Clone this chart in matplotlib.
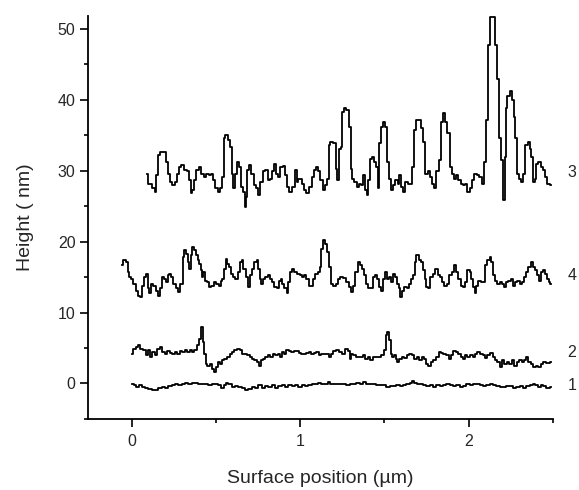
import matplotlib
matplotlib.use("Agg")
import matplotlib.pyplot as plt
from matplotlib.ticker import MultipleLocator

plt.rcParams['font.family'] = ['Liberation Sans', 'DejaVu Sans']

# ---------------- data ----------------
x3 = [0.089, 0.108, 0.128, 0.144, 0.148, 0.158, 0.177, 0.197, 0.207, 0.217, 0.231, 0.247, 0.262, 0.270,
      0.286, 0.302, 0.316, 0.336, 0.345, 0.355, 0.365, 0.375, 0.389, 0.405, 0.420, 0.434, 0.448, 0.464,
      0.474, 0.488, 0.504, 0.519, 0.533, 0.543, 0.549, 0.563, 0.577, 0.588, 0.598, 0.606, 0.618, 0.628,
      0.642, 0.652, 0.666, 0.675, 0.681, 0.691, 0.701, 0.715, 0.731, 0.745, 0.756, 0.770, 0.784, 0.800,
      0.814, 0.824, 0.835, 0.849, 0.859, 0.875, 0.889, 0.903, 0.915, 0.928, 0.942, 0.958, 0.974, 0.982,
      0.994, 1.007, 1.017, 1.027, 1.047, 1.061, 1.073, 1.086, 1.100, 1.112, 1.126, 1.140, 1.152, 1.165,
      1.171, 1.185, 1.205, 1.215, 1.225, 1.235, 1.245, 1.254, 1.264, 1.284, 1.294, 1.304, 1.314, 1.328,
      1.340, 1.353, 1.367, 1.379, 1.389, 1.399, 1.407, 1.419, 1.432, 1.446, 1.456, 1.462, 1.472, 1.486,
      1.498, 1.511, 1.521, 1.531, 1.541, 1.557, 1.571, 1.585, 1.590, 1.604, 1.616, 1.630, 1.644, 1.660,
      1.669, 1.679, 1.695, 1.709, 1.723, 1.735, 1.749, 1.762, 1.774, 1.788, 1.798, 1.814, 1.828, 1.837,
      1.853, 1.867, 1.881, 1.893, 1.907, 1.920, 1.932, 1.946, 1.960, 1.972, 1.986, 1.999, 2.011, 2.025,
      2.039, 2.055, 2.071, 2.085, 2.094, 2.110, 2.120, 2.134, 2.150, 2.164, 2.173, 2.183, 2.197, 2.209,
      2.217, 2.223, 2.237, 2.249, 2.262, 2.272, 2.282, 2.292, 2.306, 2.318, 2.332, 2.341, 2.357, 2.367,
      2.377, 2.387, 2.397, 2.407, 2.420, 2.434, 2.446, 2.460, 2.470, 2.490]
y3 = [29.6, 28.2, 27.5, 27.0, 29.4, 32.2, 32.7, 32.7, 31.3, 29.6, 28.4, 28.0, 28.4, 29.6,
      30.6, 30.8, 30.1, 29.9, 28.7, 26.8, 27.3, 28.7, 30.1, 30.5, 29.6, 29.1, 29.6, 29.4,
      29.6, 28.7, 27.5, 27.0, 27.5, 29.1, 34.6, 35.0, 34.3, 33.4, 29.6, 27.5, 29.6, 31.3,
      30.6, 27.7, 27.0, 24.9, 26.3, 30.1, 30.8, 29.6, 28.0, 27.5, 26.6, 28.4, 29.9, 30.1,
      28.7, 28.9, 29.9, 30.9, 29.6, 29.1, 30.6, 30.7, 29.4, 27.7, 27.0, 27.7, 30.1, 28.4,
      28.9, 28.8, 28.2, 27.3, 26.9, 27.7, 29.1, 30.1, 30.6, 29.9, 28.7, 27.3, 28.0, 28.9,
      33.6, 34.1, 33.9, 30.3, 28.7, 33.1, 33.4, 38.3, 38.8, 38.6, 36.2, 30.3, 28.9, 28.4,
      27.7, 28.2, 28.0, 29.4, 27.3, 26.6, 28.7, 31.7, 32.0, 31.3, 30.6, 27.5, 33.9, 36.2,
      36.9, 36.2, 31.3, 28.9, 27.3, 28.0, 28.7, 28.2, 29.4, 27.7, 27.0, 28.4, 28.2, 28.2,
      30.6, 35.7, 37.1, 37.1, 36.0, 34.1, 29.6, 29.9, 29.1, 28.2, 27.5, 29.9, 31.5, 36.9,
      38.1, 36.9, 35.3, 30.6, 29.6, 28.9, 29.4, 28.7, 28.2, 28.0, 28.2, 27.0, 27.5, 28.7,
      29.6, 29.4, 29.1, 28.2, 31.3, 37.1, 47.7, 51.7, 51.7, 47.7, 43.0, 34.6, 31.5, 25.9,
      32.0, 38.8, 40.5, 41.2, 40.0, 37.6, 34.6, 29.6, 28.9, 28.4, 29.6, 33.6, 34.1, 33.1,
      32.0, 28.4, 28.9, 31.0, 31.3, 30.6, 30.1, 29.1, 28.2, 28.0]

x4 = [-0.059, -0.044, -0.030, -0.020, -0.010, 0.004, 0.016, 0.029, 0.043, 0.055, 0.065, 0.075, 0.089,
      0.099, 0.108, 0.122, 0.134, 0.148, 0.158, 0.174, 0.184, 0.197, 0.207, 0.217, 0.227, 0.241, 0.253,
      0.267, 0.280, 0.296, 0.306, 0.316, 0.326, 0.336, 0.346, 0.352, 0.365, 0.375, 0.385, 0.395, 0.405,
      0.411, 0.419, 0.431, 0.438, 0.450, 0.464, 0.478, 0.494, 0.510, 0.523, 0.533, 0.543, 0.553, 0.563,
      0.573, 0.583, 0.597, 0.608, 0.622, 0.636, 0.648, 0.658, 0.668, 0.682, 0.695, 0.707, 0.721, 0.735,
      0.747, 0.755, 0.765, 0.774, 0.786, 0.800, 0.814, 0.826, 0.840, 0.853, 0.865, 0.879, 0.889, 0.899,
      0.913, 0.925, 0.932, 0.944, 0.958, 0.972, 0.988, 1.004, 1.017, 1.031, 1.043, 1.057, 1.071, 1.083,
      1.096, 1.110, 1.122, 1.130, 1.142, 1.156, 1.166, 1.176, 1.185, 1.205, 1.221, 1.229, 1.245, 1.264,
      1.280, 1.294, 1.308, 1.320, 1.334, 1.347, 1.359, 1.373, 1.383, 1.393, 1.407, 1.422, 1.438, 1.452,
      1.462, 1.472, 1.482, 1.498, 1.511, 1.521, 1.531, 1.545, 1.557, 1.571, 1.581, 1.590, 1.600, 1.610,
      1.624, 1.640, 1.650, 1.660, 1.675, 1.683, 1.695, 1.709, 1.723, 1.735, 1.743, 1.754, 1.768, 1.778,
      1.794, 1.808, 1.822, 1.834, 1.847, 1.861, 1.877, 1.893, 1.907, 1.920, 1.932, 1.946, 1.960, 1.972,
      1.986, 1.999, 2.011, 2.019, 2.031, 2.039, 2.051, 2.065, 2.079, 2.094, 2.104, 2.118, 2.130, 2.138,
      2.150, 2.164, 2.177, 2.189, 2.203, 2.217, 2.229, 2.243, 2.256, 2.268, 2.282, 2.296, 2.308, 2.322,
      2.335, 2.347, 2.361, 2.375, 2.387, 2.401, 2.414, 2.426, 2.434, 2.446, 2.460, 2.470, 2.480, 2.490]
y4 = [16.7, 17.4, 17.1, 15.7, 15.0, 14.8, 14.1, 13.1, 12.4, 12.2, 13.8, 15.0, 15.5,
      13.4, 12.7, 14.1, 13.8, 13.1, 12.4, 13.4, 15.0, 14.8, 14.3, 15.3, 15.5, 15.0, 14.1,
      13.4, 12.9, 14.1, 17.8, 18.8, 18.3, 17.1, 16.2, 18.1, 19.3, 18.8, 18.1, 17.4, 16.9,
      16.0, 15.0, 15.7, 14.5, 14.3, 13.6, 13.8, 14.3, 14.1, 13.8, 14.5, 14.8, 16.2, 17.6,
      16.9, 16.4, 15.5, 15.0, 14.8, 15.7, 17.1, 17.4, 16.2, 15.0, 13.6, 15.3, 16.2, 17.1,
      17.4, 16.2, 14.8, 14.1, 14.8, 15.0, 15.3, 14.8, 14.3, 13.6, 13.4, 14.5, 14.8, 14.1,
      13.4, 12.7, 14.3, 15.7, 16.2, 15.7, 15.5, 15.3, 15.0, 15.3, 14.8, 13.8, 13.8, 14.8,
      15.5, 15.7, 16.4, 19.0, 20.2, 19.7, 18.6, 16.4, 14.1, 13.8, 14.1, 14.8, 15.0, 14.9,
      14.3, 13.6, 12.9, 13.8, 15.7, 17.1, 16.7, 16.2, 15.3, 14.1, 13.4, 13.4, 15.0, 15.3,
      14.8, 13.6, 13.1, 14.8, 15.7, 14.8, 15.0, 14.3, 15.5, 15.0, 14.1, 13.4, 12.2, 13.1,
      13.6, 13.4, 14.1, 14.8, 15.3, 17.1, 18.1, 17.4, 17.1, 16.0, 14.8, 13.6, 13.4, 15.0,
      15.5, 16.2, 15.3, 15.0, 14.3, 13.8, 14.1, 15.3, 15.7, 16.7, 15.7, 14.8, 13.8, 13.6,
      14.3, 16.0, 15.7, 14.8, 13.6, 12.7, 13.8, 14.5, 14.3, 14.3, 16.7, 17.4, 17.8, 17.1,
      15.3, 14.5, 14.1, 14.3, 14.1, 13.6, 14.3, 14.5, 14.8, 13.8, 14.3, 14.5, 14.1, 14.3,
      15.0, 15.7, 16.4, 17.1, 16.4, 16.0, 15.3, 14.5, 15.7, 16.0, 15.5, 14.8, 14.3, 14.1]

x2 = [0.004, 0.016, 0.029, 0.043, 0.059, 0.075, 0.089, 0.103, 0.114, 0.128, 0.142, 0.158, 0.174, 0.188,
      0.201, 0.217, 0.233, 0.247, 0.261, 0.276, 0.292, 0.306, 0.320, 0.336, 0.352, 0.365, 0.379, 0.391,
      0.405, 0.419, 0.427, 0.435, 0.444, 0.454, 0.470, 0.484, 0.494, 0.504, 0.514, 0.529, 0.543, 0.557,
      0.573, 0.589, 0.603, 0.616, 0.632, 0.648, 0.662, 0.676, 0.691, 0.707, 0.721, 0.735, 0.751, 0.761,
      0.774, 0.786, 0.800, 0.814, 0.830, 0.846, 0.859, 0.873, 0.889, 0.899, 0.909, 0.925, 0.938, 0.952,
      0.968, 0.984, 0.998, 1.012, 1.027, 1.043, 1.057, 1.071, 1.087, 1.102, 1.116, 1.130, 1.146, 1.162,
      1.176, 1.189, 1.205, 1.221, 1.235, 1.255, 1.274, 1.288, 1.300, 1.308, 1.324, 1.343, 1.363, 1.379,
      1.393, 1.407, 1.422, 1.438, 1.452, 1.472, 1.492, 1.502, 1.511, 1.521, 1.531, 1.541, 1.551, 1.561,
      1.571, 1.581, 1.596, 1.610, 1.624, 1.640, 1.656, 1.669, 1.683, 1.699, 1.715, 1.729, 1.743, 1.754,
      1.768, 1.782, 1.798, 1.814, 1.828, 1.841, 1.857, 1.873, 1.887, 1.901, 1.917, 1.932, 1.946, 1.960,
      1.972, 1.986, 1.999, 2.015, 2.031, 2.045, 2.059, 2.075, 2.090, 2.104, 2.118, 2.134, 2.150, 2.164,
      2.177, 2.189, 2.203, 2.217, 2.233, 2.248, 2.262, 2.276, 2.292, 2.308, 2.322, 2.335, 2.347, 2.361,
      2.375, 2.391, 2.407, 2.420, 2.434, 2.450, 2.470, 2.490]
y2 = [4.2, 4.9, 5.1, 5.4, 4.9, 4.7, 4.0, 4.7, 3.7, 4.4, 4.0, 4.9, 5.1, 4.4,
      4.2, 4.6, 4.3, 4.1, 4.4, 4.2, 4.6, 4.4, 4.7, 4.4, 4.7, 4.4, 4.7, 5.4,
      6.3, 7.9, 5.8, 4.2, 2.8, 2.5, 2.8, 2.1, 1.6, 2.3, 3.0, 2.8, 3.3, 3.5,
      3.7, 4.2, 4.4, 4.7, 4.9, 4.7, 4.2, 4.1, 4.0, 3.7, 3.5, 3.3, 3.0, 2.5,
      3.3, 3.5, 3.7, 4.0, 3.7, 4.2, 4.0, 4.2, 3.7, 4.4, 4.2, 4.7, 4.6, 4.4,
      4.6, 4.6, 4.3, 4.1, 4.2, 4.3, 4.4, 4.1, 4.3, 4.4, 4.0, 4.2, 4.2, 4.1,
      3.8, 4.2, 4.6, 4.7, 4.4, 4.2, 4.9, 4.6, 3.5, 4.1, 4.0, 3.8, 3.7, 4.0,
      3.5, 3.7, 3.3, 3.8, 3.7, 3.8, 4.0, 4.7, 6.8, 7.3, 6.1, 4.2, 3.7, 4.0,
      3.5, 3.0, 3.5, 3.7, 3.6, 4.0, 4.2, 4.0, 3.5, 3.7, 3.3, 3.7, 3.5, 2.8,
      2.5, 3.0, 3.3, 3.7, 4.4, 4.3, 4.2, 4.0, 3.5, 4.0, 4.6, 4.4, 4.2, 3.8,
      3.5, 4.0, 3.7, 4.0, 3.7, 4.1, 4.4, 4.2, 4.0, 3.6, 4.0, 4.3, 3.7, 3.3,
      3.0, 2.3, 3.3, 2.8, 3.0, 2.8, 3.3, 2.5, 3.0, 3.3, 3.0, 3.3, 3.7, 3.0,
      2.8, 2.3, 2.5, 2.3, 2.8, 3.0, 2.9, 3.1]

x1 = [0.004, 0.020, 0.035, 0.049, 0.069, 0.089, 0.108, 0.128, 0.148, 0.168, 0.188, 0.207, 0.227, 0.247,
      0.267, 0.286, 0.306, 0.326, 0.346, 0.365, 0.385, 0.405, 0.425, 0.444, 0.464, 0.484, 0.504, 0.523,
      0.537, 0.553, 0.563, 0.583, 0.603, 0.622, 0.642, 0.662, 0.682, 0.701, 0.721, 0.741, 0.761, 0.780,
      0.800, 0.820, 0.840, 0.859, 0.879, 0.899, 0.919, 0.938, 0.958, 0.978, 0.998, 1.017, 1.037, 1.057,
      1.077, 1.097, 1.116, 1.136, 1.156, 1.170, 1.185, 1.205, 1.225, 1.245, 1.264, 1.284, 1.304, 1.324,
      1.343, 1.363, 1.379, 1.399, 1.419, 1.442, 1.462, 1.482, 1.502, 1.521, 1.541, 1.561, 1.581, 1.600,
      1.620, 1.640, 1.660, 1.669, 1.683, 1.699, 1.719, 1.739, 1.758, 1.778, 1.798, 1.818, 1.838, 1.857,
      1.877, 1.897, 1.917, 1.936, 1.956, 1.976, 1.996, 2.015, 2.035, 2.055, 2.075, 2.094, 2.114, 2.134,
      2.154, 2.173, 2.193, 2.213, 2.233, 2.252, 2.272, 2.292, 2.312, 2.332, 2.351, 2.371, 2.387, 2.401,
      2.420, 2.434, 2.450, 2.470, 2.490]
y1 = [-0.05, -0.28, -0.52, -0.28, -0.52, -0.61, -0.75, -0.89, -0.89, -0.61, -0.52, -0.61, -0.42, -0.28,
      -0.05, -0.28, -0.05, 0.05, -0.05, 0.05, 0.05, -0.05, -0.14, -0.05, -0.28, -0.05, -0.14, -0.28,
      -0.61, -0.28, 0.05, -0.14, -0.52, -0.42, -0.52, -0.61, -0.89, -0.75, -0.52, -0.61, -0.28, -0.61,
      -0.42, -0.52, -0.28, -0.61, -0.42, -0.28, -0.52, -0.28, -0.42, -0.28, -0.52, -0.28, -0.42, -0.28,
      -0.05, -0.05, 0.05, -0.14, -0.05, 0.19, -0.05, -0.14, -0.05, -0.14, -0.14, -0.28, -0.05, -0.14,
      0.05, -0.05, 0.19, -0.05, -0.14, -0.05, -0.28, -0.28, -0.28, -0.52, -0.42, -0.42, -0.28, -0.42,
      -0.28, -0.14, 0.05, 0.33, 0.05, -0.14, -0.05, -0.28, -0.42, -0.28, -0.52, -0.28, -0.42, -0.28,
      -0.05, -0.28, -0.42, -0.28, -0.52, -0.42, -0.14, -0.28, -0.05, -0.14, -0.28, -0.42, -0.28, -0.14,
      -0.28, -0.42, -0.52, -0.52, -0.42, -0.42, -0.61, -0.52, -0.42, -0.61, -0.42, -0.28, -0.05, -0.28,
      -0.52, -0.28, -0.42, -0.61, -0.52]

curve_labels = ["3", "4", "2", "1"]
label_heights = [29.8, 15.2, 4.4, -0.3]

x_ticks = [0, 1, 2]
y_ticks = [0, 10, 20, 30, 40, 50]
x_label = "Surface position (\u00b5m)"
y_label = "Height ( nm)"

# ---------------- figure ----------------
fig = plt.figure(figsize=(5.79, 4.90), dpi=100)
ax = fig.add_axes([0.152, 0.145, 0.803, 0.822])

for xs, ys in [(x3, y3), (x4, y4), (x2, y2), (x1, y1)]:
    ax.plot(xs, ys, color='black', lw=1.3, drawstyle='steps-mid')

txt_color = '#262626'
for lab, h in zip(curve_labels, label_heights):
    ax.text(2.585, h, lab, fontsize=11.5, color=txt_color, va='center', ha='left', clip_on=False)

ax.set_xlim(-0.26, 2.5)
ax.set_ylim(-5, 51.8)
ax.set_xticks(x_ticks)
ax.set_yticks(y_ticks)
ax.xaxis.set_minor_locator(MultipleLocator(0.5))
ax.yaxis.set_minor_locator(MultipleLocator(5))

for s in ['top', 'right']:
    ax.spines[s].set_visible(False)
for s in ['left', 'bottom']:
    ax.spines[s].set_linewidth(1.3)

ax.tick_params(which='major', direction='out', length=6, width=1.2, labelsize=11.5,
               labelcolor=txt_color, pad=3)
ax.tick_params(axis='x', which='major', pad=5)
ax.tick_params(which='minor', direction='out', length=3, width=1.2)

ax.set_xlabel(x_label, fontsize=14, color=txt_color, va='center', ha='center')
ax.xaxis.set_label_coords(0.5, -0.149)
ax.set_ylabel(y_label, fontsize=14, color=txt_color, va='center', ha='center')
ax.yaxis.set_label_coords(-0.135, 0.5)

fig.savefig("out.png", dpi=100)
